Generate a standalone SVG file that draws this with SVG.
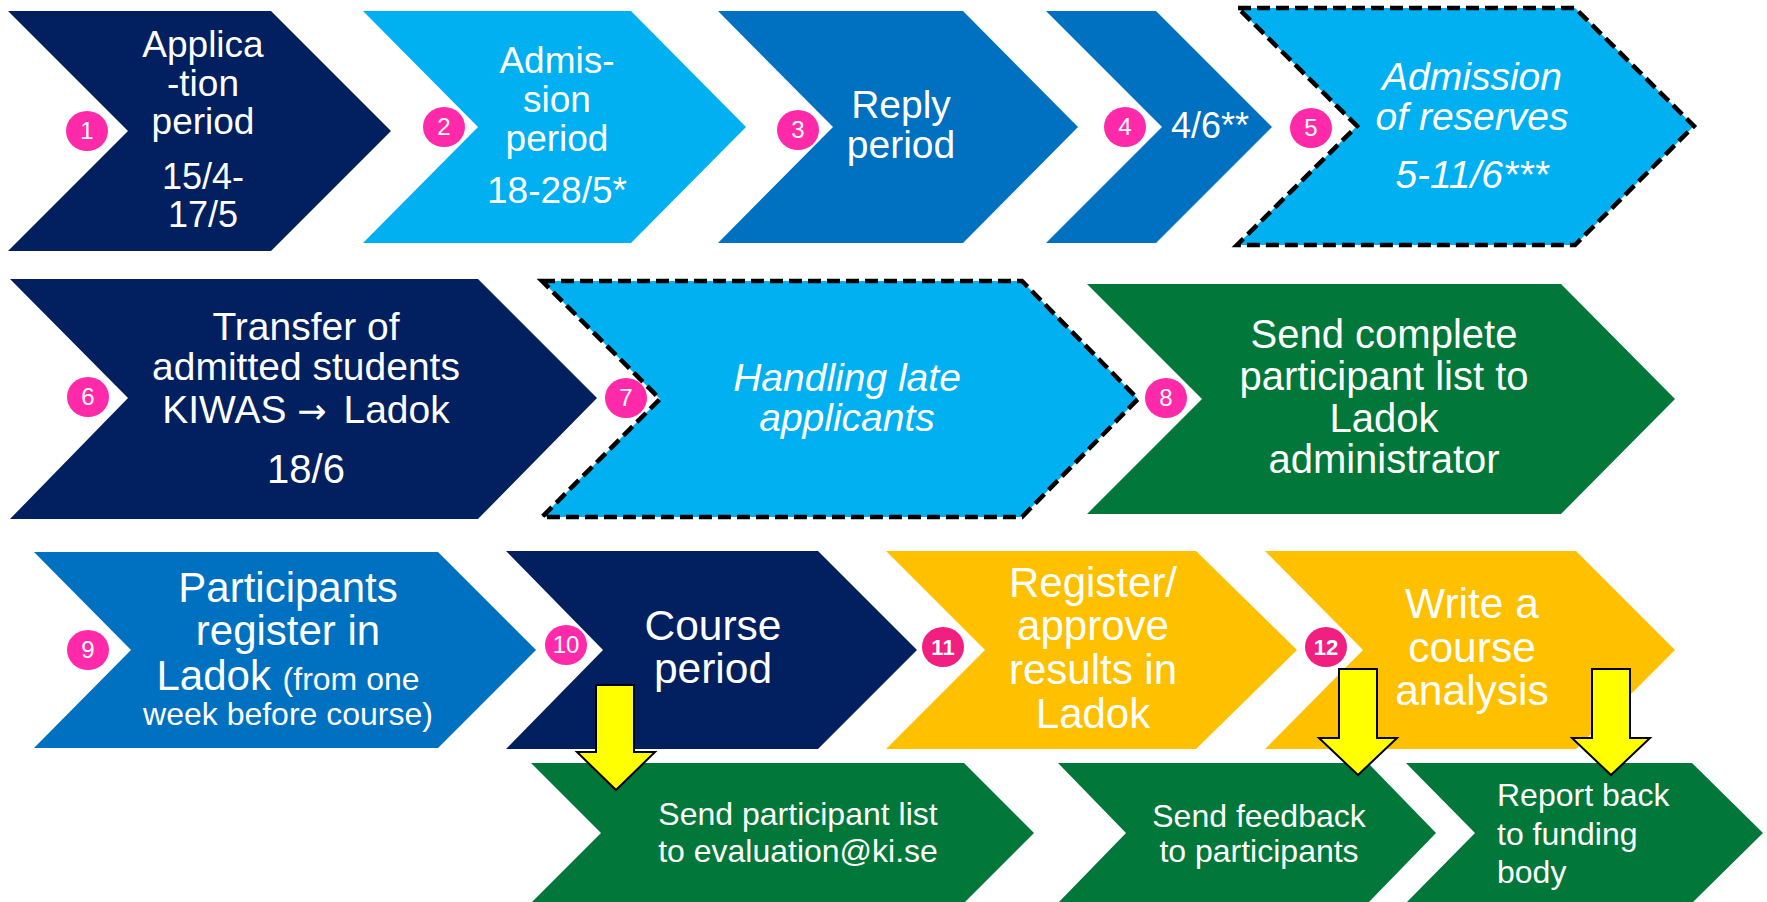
<svg xmlns="http://www.w3.org/2000/svg" width="1767" height="902" viewBox="0 0 1767 902">
<style>
.navy{fill:#02205F}
.light{fill:#00B0F0}
.mid{fill:#0070C0}
.green{fill:#02773A}
.gold{fill:#FFC000}
.dash{stroke:#000;stroke-width:4.5;stroke-dasharray:13 6;stroke-linejoin:miter}
.t{fill:#fff;font-family:"Liberation Sans",Arial,sans-serif;text-anchor:middle}
.i{font-style:italic}
.pink{fill:#FF2AAA}
.pink2{fill:#F01F80}
.n{fill:#fff;font-family:"Liberation Sans",Arial,sans-serif;font-size:24px;text-anchor:middle}
.nb{font-weight:bold;font-size:22px}
.arrow{fill:#FFFF00;stroke:#000;stroke-width:2;stroke-linejoin:miter}
</style>
<rect width="1767" height="902" fill="#fff"/>

<g id="node1">
<polygon class="navy" points="8,11 271,11 391,131 271,251 8,251 128,131"/>
<text class="t" font-size="37"><tspan x="203" y="57">Applica</tspan><tspan x="203" y="96">-tion</tspan><tspan x="203" y="134">period</tspan></text>
<text class="t" font-size="36"><tspan x="203" y="189">15/4-</tspan><tspan x="203" y="227">17/5</tspan></text>
<ellipse class="pink" cx="87" cy="131" rx="21" ry="20"/><text class="n" x="87" y="139">1</text>
</g>

<g id="node2">
<polygon class="light" points="363,11 631,11 746,127 631,243 363,243 478,127"/>
<text class="t" font-size="37"><tspan x="557" y="73">Admis-</tspan><tspan x="557" y="112">sion</tspan><tspan x="557" y="151">period</tspan><tspan x="557" y="203">18-28/5*</tspan></text>
<ellipse class="pink" cx="444" cy="127" rx="21" ry="20"/><text class="n" x="444" y="135">2</text>
</g>

<g id="node3">
<polygon class="mid" points="718,11 963,11 1078,127 963,243 718,243 833,127"/>
<text class="t" font-size="39"><tspan x="901" y="118">Reply</tspan><tspan x="901" y="158">period</tspan></text>
<ellipse class="pink" cx="798" cy="130" rx="21" ry="20"/><text class="n" x="798" y="138">3</text>
</g>

<g id="node4">
<polygon class="mid" points="1046,11 1156,11 1272,127 1156,243 1046,243 1162,127"/>
<text class="t" font-size="36" x="1210" y="138">4/6**</text>
<ellipse class="pink" cx="1125" cy="127" rx="21" ry="20"/><text class="n" x="1125" y="135">4</text>
</g>

<g id="node5">
<polygon class="light dash" points="1238,8 1575,8 1694,126 1575,245 1237,245 1357,126"/>
<text class="t i" font-size="39"><tspan x="1472" y="90">Admission</tspan><tspan x="1472" y="130">of reserves</tspan><tspan x="1472" y="188">5-11/6***</tspan></text>
<ellipse class="pink" cx="1311" cy="128" rx="21" ry="20"/><text class="n" x="1311" y="136">5</text>
</g>

<g id="node6">
<polygon class="navy" points="10,279 478,279 597,398 478,519 10,519 128,398"/>
<text class="t" font-size="39"><tspan x="306" y="340">Transfer of</tspan><tspan x="306" y="380">admitted students</tspan><tspan x="306" y="423">KIWAS <tspan font-family="DejaVu Sans" font-size="35">→</tspan> <tspan dx="6">Ladok</tspan></tspan><tspan x="306" y="483" font-size="40">18/6</tspan></text>
<ellipse class="pink" cx="88" cy="397" rx="21" ry="20"/><text class="n" x="88" y="405">6</text>
</g>

<g id="node7">
<polygon class="light dash" points="542,281 1022,281 1138,399 1022,517 542,517 660,399"/>
<text class="t i" font-size="39"><tspan x="847" y="391">Handling late</tspan><tspan x="847" y="431">applicants</tspan></text>
<ellipse class="pink" cx="626" cy="398" rx="21" ry="20"/><text class="n" x="626" y="406">7</text>
</g>

<g id="node8">
<polygon class="green" points="1087,284 1561,284 1675,399 1561,514 1087,514 1202,399"/>
<text class="t" font-size="40"><tspan x="1384" y="348">Send complete</tspan><tspan x="1384" y="390">participant list to</tspan><tspan x="1384" y="432">Ladok</tspan><tspan x="1384" y="473">administrator</tspan></text>
<ellipse class="pink" cx="1166" cy="398" rx="21" ry="20"/><text class="n" x="1166" y="406">8</text>
</g>

<g id="node9">
<polygon class="mid" points="34,552 438,552 536,650 438,748 34,748 131,650"/>
<text class="t" font-size="42"><tspan x="288" y="602">Participants</tspan><tspan x="288" y="645">register in</tspan><tspan x="288" y="690">Ladok <tspan font-size="32">(from one</tspan></tspan><tspan x="288" y="725" font-size="32">week before course)</tspan></text>
<ellipse class="pink" cx="88" cy="650" rx="21" ry="20"/><text class="n" x="88" y="658">9</text>
</g>

<g id="node10">
<polygon class="navy" points="506,551 818,551 917,650 818,749 506,749 603,650"/>
<text class="t" font-size="42.5"><tspan x="713" y="640">Course</tspan><tspan x="713" y="683">period</tspan></text>
<ellipse class="pink" cx="566" cy="645" rx="21" ry="20"/><text class="n" x="566" y="653" font-size="22">10</text>
</g>

<g id="node11">
<polygon class="gold" points="886,551 1196,551 1297,650 1196,749 886,749 985,650"/>
<text class="t" font-size="42"><tspan x="1093" y="597">Register/</tspan><tspan x="1093" y="640">approve</tspan><tspan x="1093" y="684">results in</tspan><tspan x="1093" y="728">Ladok</tspan></text>
<ellipse class="pink2" cx="943" cy="647" rx="21" ry="20"/><text class="n nb" x="943" y="655">11</text>
</g>

<g id="node12">
<polygon class="gold" points="1265,551 1576,551 1675,650 1576,749 1265,749 1363,650"/>
<text class="t" font-size="42.5"><tspan x="1472" y="618">Write a</tspan><tspan x="1472" y="662">course</tspan><tspan x="1472" y="705">analysis</tspan></text>
<ellipse class="pink2" cx="1326" cy="647" rx="21" ry="20"/><text class="n nb" x="1326" y="655">12</text>
</g>

<g id="node13">
<polygon class="green" points="531,763 964,763 1034,833 964,903 531,903 601,833"/>
<text class="t" font-size="32"><tspan x="798" y="825">Send participant list</tspan><tspan x="798" y="862">to evaluation@ki.se</tspan></text>
</g>

<g id="node14">
<polygon class="green" points="1058,763 1368,763 1436,833 1368,903 1058,903 1126,833"/>
<text class="t" font-size="32"><tspan x="1259" y="827">Send feedback</tspan><tspan x="1259" y="862">to participants</tspan></text>
</g>

<g id="node15">
<polygon class="green" points="1406,763 1692,763 1763,833 1692,903 1406,903 1475,833"/>
<text class="t" font-size="32" style="text-anchor:start"><tspan x="1497" y="806">Report back</tspan><tspan x="1497" y="845">to funding</tspan><tspan x="1497" y="883">body</tspan></text>
</g>

<g id="connectors">
<polygon class="arrow" points="596,685 634,685 634,752 655,752 616,790 577,752 596,752"/>
<polygon class="arrow" points="1339,669 1377,669 1377,738 1397,738 1358,775 1319,738 1339,738"/>
<polygon class="arrow" points="1592,669 1630,669 1630,738 1650,738 1611,775 1572,738 1592,738"/>
</g>
</svg>
